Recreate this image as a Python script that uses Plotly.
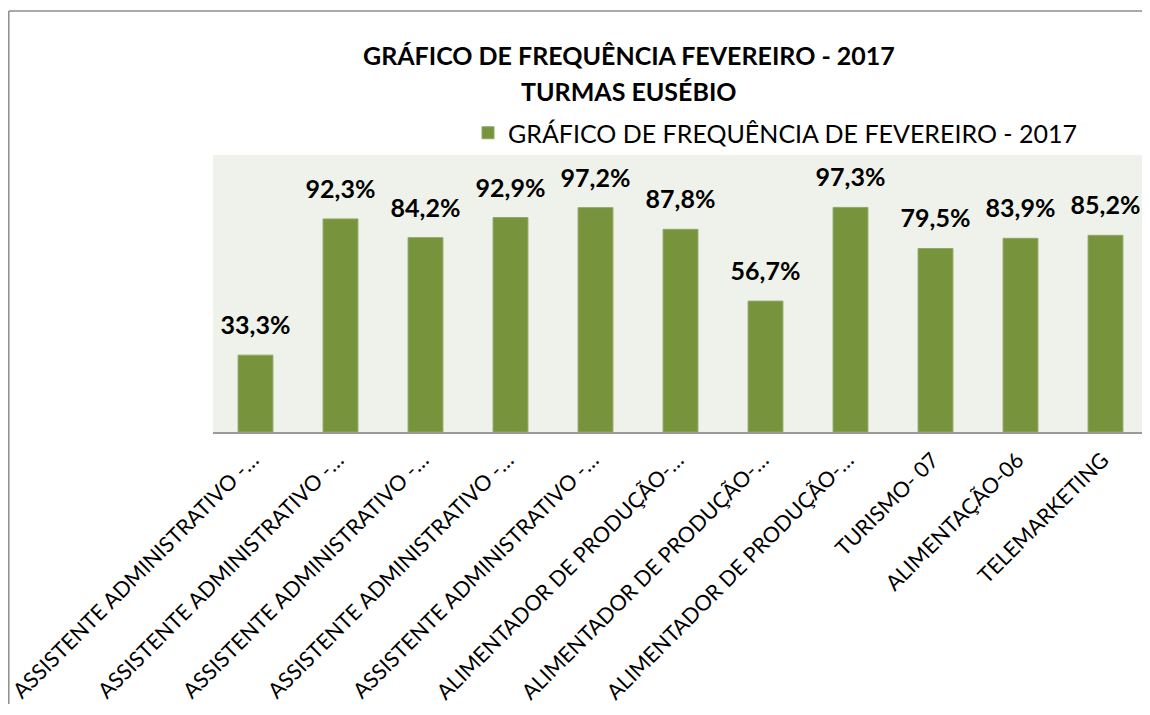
import plotly.graph_objects as go

categories = [
    "ASSISTENTE ADMINISTRATIVO -…",
    "ASSISTENTE ADMINISTRATIVO -…",
    "ASSISTENTE ADMINISTRATIVO -…",
    "ASSISTENTE ADMINISTRATIVO -…",
    "ASSISTENTE ADMINISTRATIVO -…",
    "ALIMENTADOR DE PRODUÇÃO-…",
    "ALIMENTADOR DE PRODUÇÃO-…",
    "ALIMENTADOR DE PRODUÇÃO-…",
    "TURISMO- 07",
    "ALIMENTAÇÃO-06",
    "TELEMARKETING",
]
values = [33.3, 92.3, 84.2, 92.9, 97.2, 87.8, 56.7, 97.3, 79.5, 83.9, 85.2]
series_name = "GRÁFICO DE FREQUÊNCIA DE FEVEREIRO - 2017"
title_lines = ["GRÁFICO DE FREQUÊNCIA FEVEREIRO - 2017", "TURMAS EUSÉBIO"]

positions = list(range(len(categories)))
labels = [f"{v:.1f}%".replace(".", ",") for v in values]

FONT = "Lato, 'Open Sans', sans-serif"
OFF = 8  # page body margin
W, H = 1150 - OFF, 715 - 2 * OFF - 3
ML, MT = 213 - OFF, 155 - OFF
MR = 2
MB = H - (432 - OFF)
PW, PH = W - ML - MR, H - MT - MB

def px(x):  # reference page x -> paper fraction
    return (x - OFF - ML) / PW

def py(y):  # reference page y -> paper fraction
    return (H - MB - (y - OFF)) / PH

fig = go.Figure()
fig.add_trace(go.Bar(
    x=positions,
    y=values,
    name=series_name,
    marker=dict(color="#77933C", line=dict(color="#8EA866", width=1)),
    hoverinfo="x+y",
    showlegend=True,
))
# data labels (invisible markers give the label its offset above the bar)
fig.add_trace(go.Scatter(
    x=positions,
    y=values,
    mode="markers+text",
    marker=dict(size=22, opacity=0, color="#77933C"),
    text=labels,
    textposition="top center",
    textfont=dict(family=FONT, size=25, color="black", weight="bold"),
    cliponaxis=False,
    showlegend=False,
    hoverinfo="skip",
))

fig.update_layout(
    width=W, height=H,
    margin=dict(l=ML, r=MR, t=MT, b=MB, autoexpand=False),
    paper_bgcolor="white",
    plot_bgcolor="#EFF2EA",
    bargap=0.59,
    font=dict(family=FONT, color="black"),
    xaxis=dict(
        tickmode="array", tickvals=positions, ticktext=categories,
        tickangle=-45, tickfont=dict(family=FONT, size=21.5, color="black"),
        ticklabeloverflow="allow", ticklabelstandoff=5, ticklabelshift=-3,
        showline=True, linecolor="#9A9A9A", linewidth=2,
        showgrid=False, zeroline=False, ticks="",
        range=[-0.5, len(categories) - 0.5],
    ),
    yaxis=dict(range=[0, 120], visible=False, showgrid=False, zeroline=False),
    showlegend=True,
    legend=dict(
        orientation="h", x=px(468), y=py(110), xanchor="left", yanchor="top",
        font=dict(family=FONT, size=25, color="black"),
        bgcolor="rgba(0,0,0,0)", itemwidth=30,
    ),
    annotations=[
        dict(text=f"<b>{title_lines[0]}</b>", x=px(629), y=py(55), xref="paper", yref="paper",
             showarrow=False, font=dict(family=FONT, size=25, color="black"), xanchor="center", yanchor="middle"),
        dict(text=f"<b>{title_lines[1]}</b>", x=px(629), y=py(91), xref="paper", yref="paper",
             showarrow=False, font=dict(family=FONT, size=25, color="black"), xanchor="center", yanchor="middle"),
    ],
    shapes=[
        dict(type="line", xref="paper", yref="paper",
             x0=px(8.8), x1=px(1150), y0=py(11), y1=py(11),
             line=dict(color="#8C8C8C", width=1.5), layer="below"),
        dict(type="line", xref="paper", yref="paper",
             x0=px(8.8), x1=px(8.8), y0=py(11), y1=py(715),
             line=dict(color="#8C8C8C", width=1.5), layer="below"),
    ],
)

fig.write_html("out.html", config={"displayModeBar": False})
